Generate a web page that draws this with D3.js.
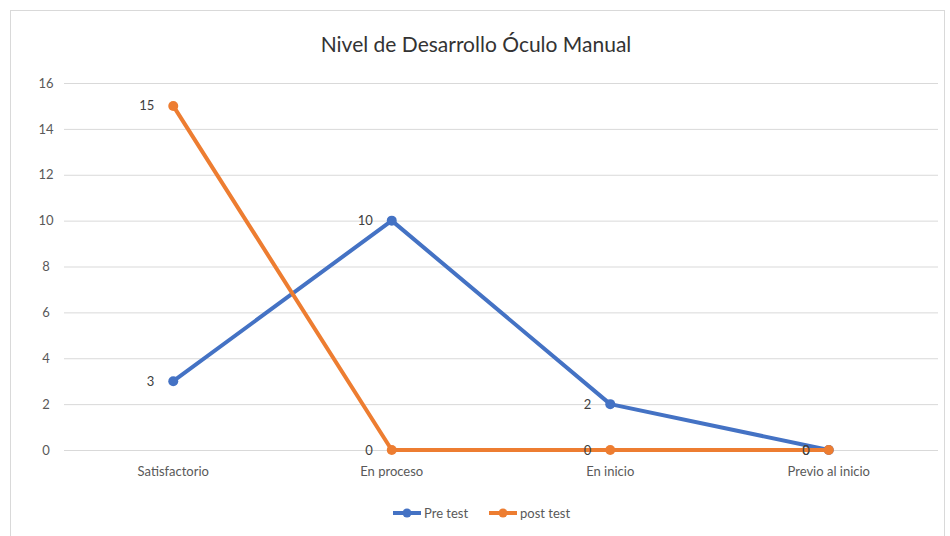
<!DOCTYPE html>
<html>
<head>
<meta charset="utf-8">
<script src="https://cdn.jsdelivr.net/npm/d3@7"></script>
<style>
  body { margin: 0; background: #fff; }
  text { font-family: Lato, "Open Sans", sans-serif; }
</style>
</head>
<body>
<div id="container"></div>
<script>
var categories = ["Satisfactorio", "En proceso", "En inicio", "Previo al inicio"];
var preTest = [3, 10, 2, 0];
var postTest = [15, 0, 0, 0];
var yTicks = [0, 2, 4, 6, 8, 10, 12, 14, 16];

var width = 950, height = 536;
var margin = { top: 83, right: 12, bottom: 86, left: 64 };

let svg = d3.select('#container')
    .append('svg')
    .attr('width', width)
    .attr('height', height);

// outer chart border
svg.append('rect')
    .attr('x', 10.5)
    .attr('y', 10.5)
    .attr('width', 934)
    .attr('height', 530)
    .attr('fill', '#fff')
    .attr('stroke', '#d9d9d9');

svg.append('text')
    .attr('x', 476)
    .attr('y', 52)
    .attr('text-anchor', 'middle')
    .attr('font-size', 21)
    .attr('fill', '#333')
    .text('Nivel de Desarrollo Óculo Manual');

var x = d3.scaleBand()
    .domain(categories)
    .range([margin.left, width - margin.right]);

var y = d3.scaleLinear()
    .domain([0, 16])
    .range([height - margin.bottom, margin.top]);

// gridlines + y labels
var yAxis = svg.append('g')
    .attr('transform', 'translate(' + margin.left + ',0)')
    .call(d3.axisLeft(y).tickValues(yTicks).tickSize(-(width - margin.left - margin.right)).tickPadding(14));
yAxis.select('.domain').remove();
yAxis.selectAll('line').attr('stroke', '#d9d9d9');
yAxis.selectAll('text').attr('fill', '#595959').attr('font-size', 13).attr('text-anchor', 'middle').attr('dx', -4);

var xAxis = svg.append('g')
    .attr('transform', 'translate(0,' + (height - margin.bottom) + ')')
    .call(d3.axisBottom(x).tickSize(0).tickPadding(17));
xAxis.select('.domain').remove();
xAxis.selectAll('text').attr('fill', '#595959').attr('font-size', 13);

var series = [
    { name: 'Pre test', values: preTest, color: '#4472C4' },
    { name: 'post test', values: postTest, color: '#ED7D31' }
];

var line = d3.line()
    .x(function (d, i) { return x(categories[i]) + x.bandwidth() / 2; })
    .y(function (d) { return y(d); });

series.forEach(function (s) {
    svg.append('path')
        .attr('d', line(s.values))
        .attr('fill', 'none')
        .attr('stroke', s.color)
        .attr('stroke-width', 4)
        .attr('stroke-linejoin', 'round');

    svg.selectAll(null)
        .data(s.values)
        .enter().append('circle')
        .attr('cx', function (d, i) { return x(categories[i]) + x.bandwidth() / 2; })
        .attr('cy', function (d) { return y(d); })
        .attr('r', 5)
        .attr('fill', s.color);

    svg.selectAll(null)
        .data(s.values)
        .enter().append('text')
        .attr('x', function (d, i) { return x(categories[i]) + x.bandwidth() / 2 - 19; })
        .attr('y', function (d) { return y(d) + 4.5; })
        .attr('text-anchor', 'end')
        .attr('font-size', 13)
        .attr('fill', '#404040')
        .text(function (d) { return d; });
});

// legend
var legend = svg.append('g').attr('transform', 'translate(0,513)');
var legendX = [393, 489];
series.forEach(function (s, i) {
    var g = legend.append('g').attr('transform', 'translate(' + legendX[i] + ',0)');
    g.append('line')
        .attr('x1', 0).attr('x2', 28)
        .attr('stroke', s.color)
        .attr('stroke-width', 4);
    g.append('circle')
        .attr('cx', 14).attr('r', 4.5)
        .attr('fill', s.color);
    g.append('text')
        .attr('x', 31).attr('y', 4.5)
        .attr('font-size', 13)
        .attr('fill', '#595959')
        .text(s.name);
});
</script>
</body>
</html>
